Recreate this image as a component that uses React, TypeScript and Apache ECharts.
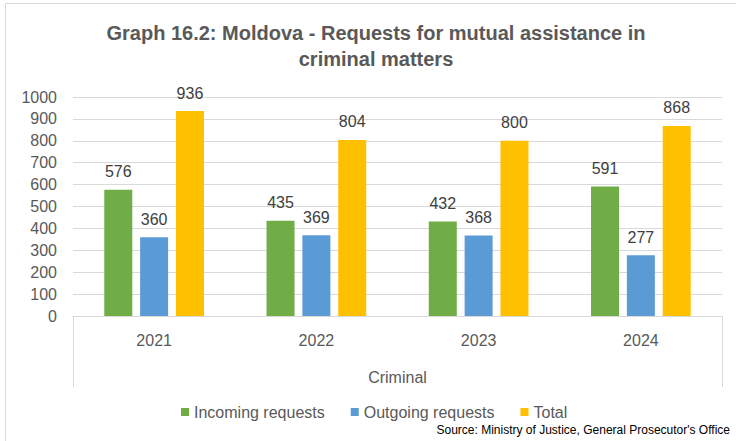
import React, { useEffect, useRef } from "react";
import * as echarts from "echarts";

const years = ["2021", "2022", "2023", "2024"];
const incoming = [576, 435, 432, 591];
const outgoing = [360, 369, 368, 277];
const total = [936, 804, 800, 868];
const groupLabel = ["Criminal"];
const seriesNames = ["Incoming requests", "Outgoing requests", "Total"];
const titleText = "Graph 16.2: Moldova - Requests for mutual assistance in\ncriminal matters";
const sourceText = "Source: Ministry of Justice, General Prosecutor's Office";

const FONT = "'Liberation Sans', Arial, sans-serif";

export default function App() {
  const ref = useRef<HTMLDivElement>(null);
  useEffect(() => {
    if (!ref.current) return;
    const chart = echarts.init(ref.current, null, { renderer: "svg" });
    const label = {
      show: true,
      position: "top",
      distance: 10,
      color: "#404040",
      fontSize: 16,
      fontFamily: FONT,
    };
    chart.setOption({
      animation: false,
      backgroundColor: "#ffffff",
      textStyle: { fontFamily: FONT },
      graphic: [
        {
          type: "rect",
          shape: { x: 5.5, y: 3.5, width: 760, height: 460 },
          style: { fill: "none", stroke: "#d9d9d9", lineWidth: 1 },
          silent: true,
        },
        {
          type: "text",
          x: 376,
          y: 20,
          style: {
            text: titleText,
            fontSize: 20,
            fontWeight: "bold",
            fill: "#595959",
            fontFamily: FONT,
            align: "center",
            verticalAlign: "top",
            lineHeight: 26,
          },
        },
        {
          type: "text",
          x: 730,
          y: 424,
          style: {
            text: sourceText,
            fontSize: 12,
            fill: "#000000",
            fontFamily: FONT,
            align: "right",
            verticalAlign: "top",
          },
        },
      ],
      legend: {
        data: seriesNames,
        left: 176,
        top: 399,
        itemWidth: 8,
        itemHeight: 8,
        itemGap: 26,
        icon: "rect",
        textStyle: { color: "#595959", fontSize: 16, fontFamily: FONT },
      },
      grid: { left: 73, right: 14, top: 97, bottom: 125, containLabel: false },
      xAxis: [
        {
          type: "category",
          data: years,
          axisLine: { show: true, lineStyle: { color: "#d9d9d9", width: 1 } },
          axisTick: { show: false },
          axisLabel: { color: "#595959", fontSize: 16, margin: 16, fontFamily: FONT },
        },
        {
          type: "category",
          data: groupLabel,
          position: "bottom",
          axisLine: { show: true, lineStyle: { color: "#d9d9d9", width: 1 } },
          axisTick: { show: true, length: 71, lineStyle: { color: "#d9d9d9", width: 1 } },
          axisLabel: { color: "#595959", fontSize: 16, margin: 53, fontFamily: FONT },
        },
      ],
      yAxis: {
        type: "value",
        min: 0,
        max: 1000,
        interval: 100,
        axisLine: { show: false },
        axisTick: { show: false },
        splitLine: { lineStyle: { color: "#d9d9d9", width: 1 } },
        axisLabel: {
          color: "#595959",
          fontSize: 16,
          margin: 16,
          fontFamily: FONT,
          formatter: (v: number) => String(v),
        },
      },
      series: [
        {
          name: seriesNames[0],
          type: "bar",
          xAxisIndex: 0,
          data: incoming,
          barWidth: 28,
          barGap: "28%",
          itemStyle: { color: "#70AD47" },
          label,
        },
        {
          name: seriesNames[1],
          type: "bar",
          xAxisIndex: 0,
          data: outgoing,
          barWidth: 28,
          barGap: "28%",
          itemStyle: { color: "#5B9BD5" },
          label,
        },
        {
          name: seriesNames[2],
          type: "bar",
          xAxisIndex: 0,
          data: total,
          barWidth: 28,
          barGap: "28%",
          itemStyle: { color: "#FFC000" },
          label,
        },
      ],
    });
    return () => chart.dispose();
  }, []);
  return <div ref={ref} style={{ width: 736, height: 441, position: "fixed", left: 0, top: 0 }} />;
}
